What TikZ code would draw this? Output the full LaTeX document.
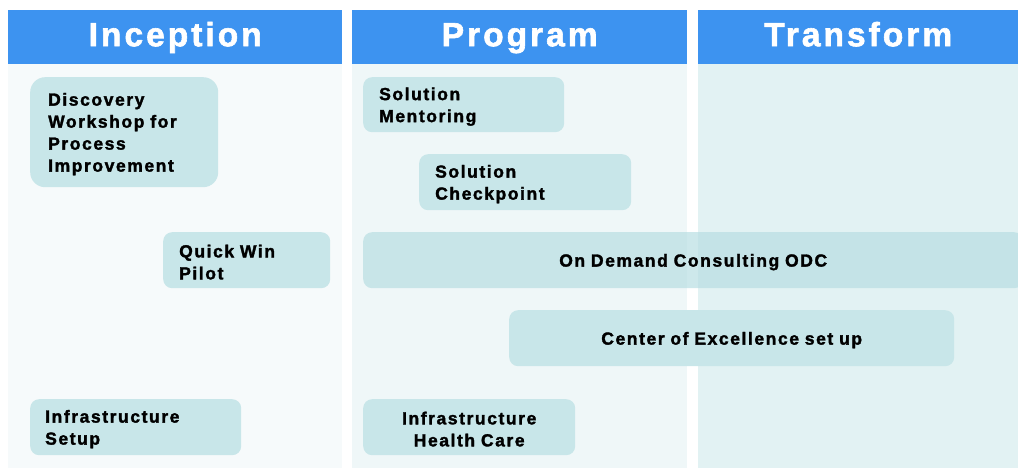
\documentclass[tikz,border=0pt]{standalone}
\usepackage{fontspec}
\setmainfont{Liberation Sans}[LetterSpace=9, BoldFeatures={FakeBold=1.8}]
\begin{document}
\begin{tikzpicture}[x=1pt,y=-1pt,
  hdr/.style={fill=hdrblue, draw=none, anchor=north west, inner sep=0pt,
    text=white, text height=24pt, text depth=6pt, font=\fontsize{33.5}{36}\selectfont\bfseries},
  colbody/.style={draw=none, anchor=north west, inner sep=0pt},
  box/.style={fill=boxfill, draw=none, rounded corners=9pt, anchor=north west,
    inner ysep=0pt, font=\fontsize{17.5}{22}\selectfont\bfseries, text=black,
    execute at begin node={\rule{0pt}{16.5pt}}},
  lbox/.style={box, align=left},
  cbox/.style={box, align=center}]
\definecolor{hdrblue}{RGB}{61,147,240}
\definecolor{boxfill}{RGB}{200,230,233}
\definecolor{odcfill}{RGB}{184,222,226}
\definecolor{bgA}{RGB}{246,250,251}
\definecolor{bgB}{RGB}{239,247,248}
\definecolor{bgC}{RGB}{226,242,243}
\useasboundingbox (0,0) rectangle (1018,470);
% column bodies
\node[colbody, fill=bgA, minimum width=334pt, minimum height=404pt] (bodyA) at (8,64) {};
\node[colbody, fill=bgB, minimum width=335pt, minimum height=404pt] (bodyB) at (352,64) {};
\node[colbody, fill=bgC, minimum width=320pt, minimum height=404pt] (bodyC) at (698,64) {};
% headers
\node[hdr, minimum width=334pt, minimum height=54pt] (hA) at (8,10) {Inception};
\node[hdr, minimum width=335pt, minimum height=54pt] (hB) at (352,10) {Program};
\node[hdr, minimum width=320pt, minimum height=54pt] (hC) at (698,10) {Transform};
% boxes
\node[lbox, rounded corners=15pt, inner xsep=18pt, text width=152pt, minimum height=110pt] (disc) at (30,77)
  {Discovery\\Workshop for\\Process\\Improvement};
\node[lbox, inner xsep=16pt, text width=135pt, minimum height=56pt] (qwp) at (163,232)
  {Quick Win\\Pilot};
\node[lbox, inner xsep=15pt, text width=181pt, minimum height=56pt] (infs) at (30,399)
  {Infrastructure\\Setup};
\node[lbox, inner xsep=16pt, text width=169pt, minimum height=55pt] (solm) at (363,77)
  {Solution\\Mentoring};
\node[lbox, inner xsep=16pt, text width=180pt, minimum height=56pt] (solc) at (419,154)
  {Solution\\Checkpoint};
\node[cbox, fill=odcfill, fill opacity=0.7, text opacity=1, inner xsep=0pt, text width=660pt, minimum height=56pt] (odc) at (363,232)
  {On Demand Consulting ODC};
\node[cbox, inner xsep=0pt, text width=445pt, minimum height=56pt] (coe) at (509,310)
  {Center of Excellence set up};
\node[cbox, inner xsep=0pt, text width=212pt, minimum height=56pt] (infh) at (363,399)
  {Infrastructure\\Health Care};
\end{tikzpicture}
\end{document}
